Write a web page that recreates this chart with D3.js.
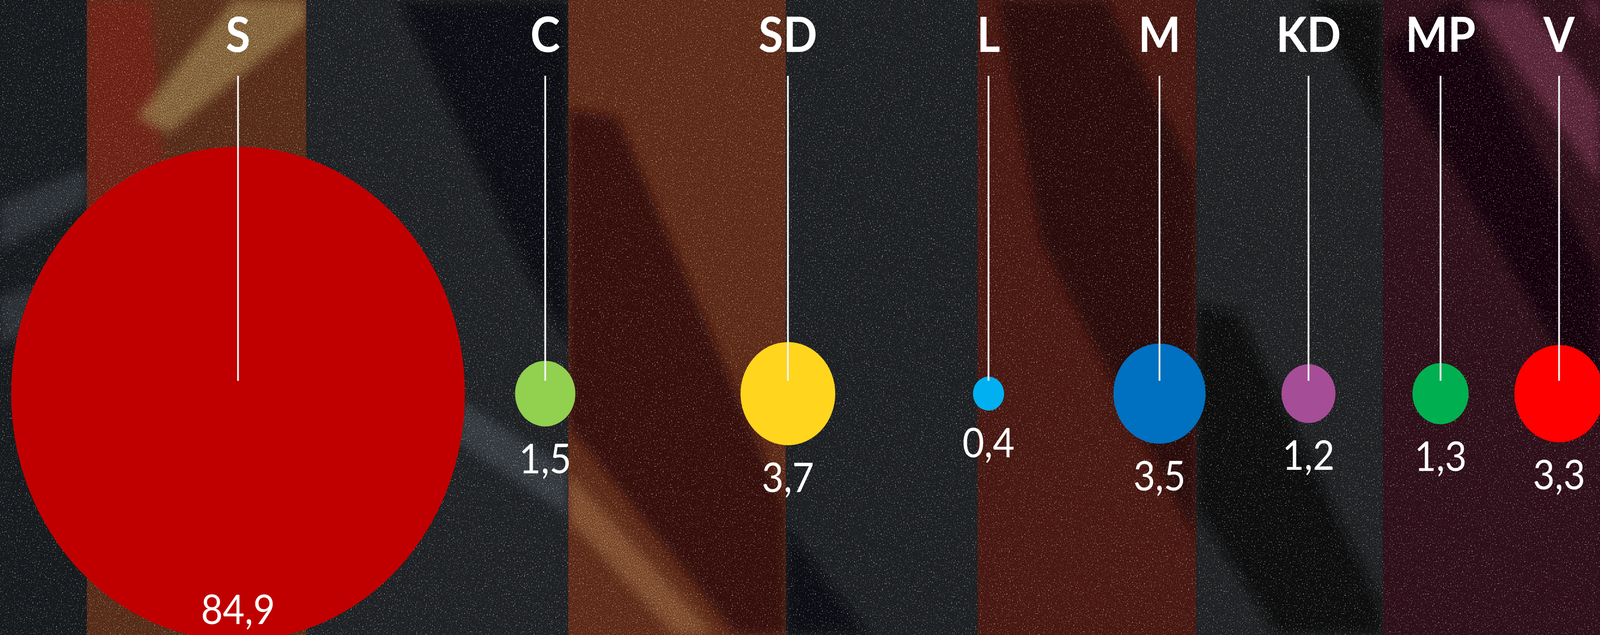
<!DOCTYPE html>
<html>
<head>
<meta charset="utf-8">
<script src="https://cdn.jsdelivr.net/npm/d3@7"></script>
<style>
  html, body { margin: 0; padding: 0; width: 100%; height: 100%; background: #1d2125; overflow: hidden; }
  svg { display: block; width: 100vw; height: 100vh; }
</style>
</head>
<body>
<svg id="chart"></svg>
<script>
// party shares (%)
const parties = ["S", "C", "SD", "L", "M", "KD", "MP", "V"];
const shares = [84.9, 1.5, 3.7, 0.4, 3.5, 1.2, 1.3, 3.3];
const partyColors = ["#c00000", "#92d050", "#ffd51e", "#00b0f0", "#0070c0", "#a64d98", "#00b050", "#ff0000"];

const width = 4457, height = 1626;

// backdrop: vertical stripes of the photo behind the chart
const stripeEdges = [0, 242, 853, 1583, 2189, 2723, 3332, 3852, 4457];
const stripeColors = ["#1d2125", "#6c3820", "#272a2e", "#74361f", "#25282c", "#5a1f17", "#282a2d", "#3a1420"];
// diagonal bands (shadows / light streaks) in the photo
const bands = [
  { fill: "#8e2a1c", pts: [[242, 0], [420, 0], [460, 480], [242, 560]] },
  { fill: "#b08a52", pts: [[650, 0], [853, 0], [853, 60], [470, 340], [380, 300]] },
  { fill: "#3e4348", pts: [[0, 520], [242, 430], [242, 520], [0, 640]] },
  { fill: "#3e4348", pts: [[0, 760], [242, 700], [242, 800], [0, 880]] },
  { fill: "#0c0f12", pts: [[1110, 0], [1583, 0], [1583, 880], [1470, 700]] },
  { fill: "#4a5056", pts: [[1240, 1000], [1583, 1200], [1583, 1320], [1240, 1110]] },
  { fill: "#3a0b0b", pts: [[1583, 280], [1720, 300], [2189, 1300], [2189, 1626], [2050, 1626], [1583, 1090]] },
  { fill: "#a5683f", pts: [[1583, 1210], [1583, 1330], [1880, 1626], [1990, 1626]] },
  { fill: "#0c0f12", pts: [[2189, 1350], [2420, 1626], [2189, 1626]] },
  { fill: "#2e0909", pts: [[2780, 0], [3080, 0], [3332, 450], [3332, 1380], [2900, 620]] },
  { fill: "#0a0b0d", pts: [[3332, 780], [3450, 800], [3852, 1560], [3852, 1626], [3560, 1626], [3332, 1300]] },
  { fill: "#0a0b0d", pts: [[3650, 0], [3852, 0], [3852, 340]] },
  { fill: "#120509", pts: [[3852, 120], [4060, 0], [4457, 700], [4457, 1080]] },
  { fill: "#7a3450", pts: [[4090, 0], [4250, 0], [4457, 260], [4457, 470]] },
  { fill: "#6a2c45", pts: [[4400, 0], [4457, 0], [4457, 80]] }
];

// the drawing is laid out on a 4457x1626 canvas and stretched to the window
const svg = d3.select("#chart")
  .attr("viewBox", [0, 0, width, height])
  .attr("preserveAspectRatio", "none");

const defs = svg.append("defs");

defs.append("filter").attr("id", "soft")
  .append("feGaussianBlur").attr("stdDeviation", 14);

// white specks
const g1 = defs.append("filter").attr("id", "specks")
  .attr("filterUnits", "userSpaceOnUse")
  .attr("x", 0).attr("y", 0).attr("width", width).attr("height", height);
g1.append("feTurbulence").attr("type", "fractalNoise").attr("baseFrequency", 0.3).attr("numOctaves", 2).attr("seed", 4);
g1.append("feColorMatrix").attr("type", "matrix")
  .attr("values", "0 0 0 0 1  0 0 0 0 1  0 0 0 0 1  14 0 0 0 -9.4");

// dark grain
const g2 = defs.append("filter").attr("id", "grain")
  .attr("filterUnits", "userSpaceOnUse")
  .attr("x", 0).attr("y", 0).attr("width", width).attr("height", height);
g2.append("feTurbulence").attr("type", "fractalNoise").attr("baseFrequency", 0.45).attr("numOctaves", 1).attr("seed", 9);
g2.append("feColorMatrix").attr("type", "matrix")
  .attr("values", "0 0 0 0 0  0 0 0 0 0  0 0 0 0 0  -4 0 0 0 2.4");

const back = svg.append("g");

back.selectAll("rect")
  .data(stripeColors)
  .join("rect")
  .attr("x", (d, i) => stripeEdges[i])
  .attr("y", 0)
  .attr("width", (d, i) => stripeEdges[i + 1] - stripeEdges[i])
  .attr("height", height)
  .attr("fill", d => d);

// clip each band to its own stripe so edges stay sharp between stripes
stripeColors.forEach((_, i) => {
  defs.append("clipPath").attr("id", "stripe" + i)
    .append("rect")
    .attr("x", stripeEdges[i]).attr("y", 0)
    .attr("width", stripeEdges[i + 1] - stripeEdges[i]).attr("height", height);
});

const stripeOf = x => Math.max(0, d3.bisectRight(stripeEdges, x) - 1);

bands.forEach(b => {
  const mx = d3.mean(b.pts, p => p[0]);
  back.append("g")
    .attr("clip-path", `url(#stripe${Math.min(stripeOf(mx), stripeColors.length - 1)})`)
    .append("path")
    .attr("d", d3.line()(b.pts) + "Z")
    .attr("fill", b.fill)
    .attr("opacity", 0.85)
    .attr("filter", "url(#soft)");
});

back.append("rect").attr("width", width).attr("height", height)
  .attr("fill", "#000").attr("filter", "url(#grain)").attr("opacity", 0.45);
back.append("rect").attr("width", width).attr("height", height)
  .attr("fill", "#fff").attr("filter", "url(#specks)").attr("opacity", 0.45);

// scales
// columns get tighter to the right: log spacing over the column index
const offset = 3.3;
const x = d3.scaleLog()
  .domain([offset, parties.length - 1 + offset])
  .range([663, 4343]);
const r = d3.scaleSqrt()
  .domain([0, d3.max(shares)])
  .range([0, 632]);

const cy = 1008;
const fmt = d3.formatLocale({ decimal: ",", thousands: " ", grouping: [3], currency: ["", " kr"] }).format(".1f");

const data = parties.map((p, i) => ({ party: p, value: shares[i], color: partyColors[i], i }));
const cx = d => x(d.i + offset);

const chart = svg.append("g");

chart.selectAll("circle")
  .data(data)
  .join("circle")
  .attr("cx", cx)
  .attr("cy", cy)
  .attr("r", d => r(d.value))
  .attr("fill", d => d.color);

chart.selectAll("line")
  .data(data)
  .join("line")
  .attr("x1", cx).attr("x2", cx)
  .attr("y1", 194).attr("y2", cy - 33)
  .attr("stroke", "#f2f2f2")
  .attr("stroke-width", 5);

chart.selectAll("text.party")
  .data(data)
  .join("text")
  .attr("class", "party")
  .attr("x", cx)
  .attr("y", 133)
  .attr("text-anchor", "middle")
  .attr("fill", "#fff")
  .attr("font-family", "Lato, 'Open Sans', sans-serif")
  .attr("font-weight", 700)
  .attr("font-size", 125)
  .text(d => d.party);

// value under its bubble; the big one sits on the bottom edge inside its circle
chart.selectAll("text.value")
  .data(data)
  .join("text")
  .attr("class", "value")
  .attr("x", cx)
  .attr("y", d => Math.min(cy + r(d.value) + 120, height - 28))
  .attr("text-anchor", "middle")
  .attr("fill", "#fff")
  .attr("font-family", "Lato, 'Open Sans', sans-serif")
  .attr("font-weight", 400)
  .attr("font-size", 105)
  .text(d => fmt(d.value));
</script>
</body>
</html>
